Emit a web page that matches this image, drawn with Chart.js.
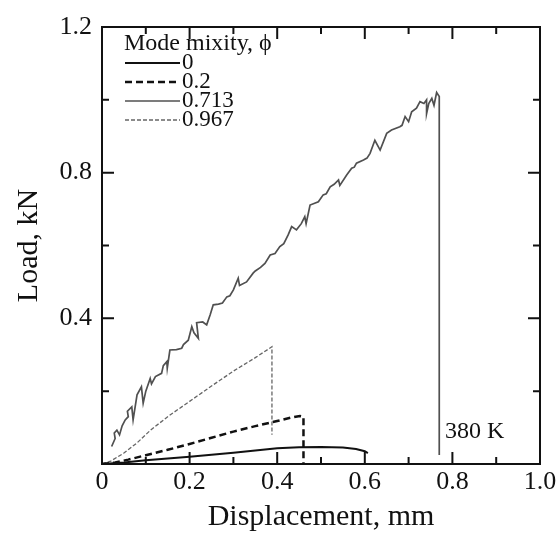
<!DOCTYPE html>
<html>
<head>
<meta charset="utf-8">
<script src="https://cdn.jsdelivr.net/npm/chart.js@4.4.1/dist/chart.umd.min.js"></script>
<style>
  html, body { margin: 0; padding: 0; background: #fff; }
  #wrap { width: 560px; height: 539px; }
</style>
</head>
<body>
<div id="wrap"><canvas id="loadChart"></canvas></div>
<script>
// tick values and labels
const xMajorTicks = [0, 0.2, 0.4, 0.6, 0.8, 1.0];
const xTickLabels = ["0", "0.2", "0.4", "0.6", "0.8", "1.0"];
const xMinorTicks = [0.1, 0.3, 0.5, 0.7, 0.9];
const yMajorTicks = [0.4, 0.8, 1.2];
const yTickLabels = ["0.4", "0.8", "1.2"];
const yMinorTicks = [0.2, 0.6, 1.0];

const mixityLabels = ["0", "0.2", "0.713", "0.967"];

// mode mixity 0
const disp0 = [0, 0.05, 0.1, 0.2, 0.3, 0.4, 0.45, 0.5, 0.55, 0.58, 0.6, 0.607];
const load0 = [0, 0.004, 0.01, 0.02, 0.031, 0.043, 0.046, 0.047, 0.045, 0.041, 0.035, 0.03];

// mode mixity 0.2
const disp02 = [0, 0.03, 0.06, 0.1, 0.15, 0.2, 0.25, 0.3, 0.35, 0.4, 0.43, 0.452, 0.46, 0.46];
const load02 = [0, 0.004, 0.012, 0.024, 0.039, 0.055, 0.072, 0.089, 0.104, 0.118, 0.127, 0.132, 0.13, 0];

// mode mixity 0.713 (jagged record, then sudden drop)
const disp0713 = [0.022, 0.03, 0.028, 0.034, 0.04, 0.046, 0.053, 0.06, 0.058, 0.068, 0.071, 0.08, 0.09,
  0.094, 0.1, 0.11, 0.113, 0.122, 0.136, 0.14, 0.148, 0.149, 0.155, 0.17, 0.182, 0.186, 0.197, 0.205,
  0.21, 0.22, 0.216, 0.23, 0.239, 0.247, 0.254, 0.266, 0.275, 0.285, 0.292, 0.3, 0.311, 0.314, 0.33,
  0.345, 0.35, 0.362, 0.372, 0.384, 0.395, 0.406, 0.415, 0.425, 0.433, 0.444, 0.455, 0.463, 0.466,
  0.475, 0.494, 0.505, 0.512, 0.521, 0.53, 0.54, 0.543, 0.559, 0.57, 0.576, 0.581, 0.597, 0.605, 0.612,
  0.623, 0.635, 0.65, 0.661, 0.68, 0.685, 0.692, 0.7, 0.707, 0.718, 0.726, 0.735, 0.741, 0.741, 0.746,
  0.753, 0.758, 0.764, 0.77, 0.77];
const load0713 = [0.048, 0.07, 0.085, 0.093, 0.08, 0.105, 0.121, 0.13, 0.145, 0.157, 0.121, 0.19, 0.212,
  0.167, 0.2, 0.235, 0.22, 0.24, 0.249, 0.27, 0.281, 0.263, 0.313, 0.314, 0.318, 0.328, 0.34, 0.377,
  0.36, 0.345, 0.388, 0.39, 0.382, 0.41, 0.437, 0.439, 0.442, 0.459, 0.462, 0.478, 0.51, 0.49, 0.5,
  0.524, 0.53, 0.54, 0.551, 0.574, 0.578, 0.597, 0.605, 0.629, 0.652, 0.643, 0.66, 0.679, 0.66,
  0.711, 0.72, 0.739, 0.742, 0.761, 0.768, 0.78, 0.765, 0.794, 0.812, 0.815, 0.826, 0.835, 0.84, 0.853,
  0.889, 0.862, 0.908, 0.917, 0.926, 0.93, 0.954, 0.94, 0.967, 0.977, 0.995, 0.99, 1.0, 0.962, 0.99,
  1.004, 0.985, 1.02, 1.009, 0.025];

// mode mixity 0.967
const disp0967 = [0, 0.02, 0.05, 0.08, 0.11, 0.15, 0.2, 0.25, 0.3, 0.35, 0.388, 0.388];
const load0967 = [0, 0.008, 0.03, 0.058, 0.092, 0.13, 0.172, 0.214, 0.255, 0.292, 0.322, 0.08];

const serif = "'Liberation Serif', 'Times New Roman', serif";

function toPoints(xs, ys) {
  return xs.map((x, i) => ({ x: x, y: ys[i] }));
}

const lineStyles = [
  { color: "#111", width: 2, dash: [] },
  { color: "#111", width: 2.5, dash: [7, 4] },
  { color: "#505050", width: 1.7, dash: [] },
  { color: "#666", width: 1.3, dash: [4, 2] },
];

// frame, inward ticks, legend and the 380 K note
const framePlugin = {
  id: "frame",
  afterDatasetsDraw(chart) {
    const ctx = chart.ctx;
    const a = chart.chartArea;
    const xs = chart.scales.x;
    const ys = chart.scales.y;
    ctx.save();
    ctx.strokeStyle = "#111";
    ctx.lineWidth = 2;
    ctx.strokeRect(a.left, a.top, a.right - a.left, a.bottom - a.top);

    function xTick(v, len) {
      const px = xs.getPixelForValue(v);
      ctx.beginPath();
      ctx.moveTo(px, a.bottom); ctx.lineTo(px, a.bottom - len);
      ctx.moveTo(px, a.top); ctx.lineTo(px, a.top + len);
      ctx.stroke();
    }
    function yTick(v, len) {
      const py = ys.getPixelForValue(v);
      ctx.beginPath();
      ctx.moveTo(a.left, py); ctx.lineTo(a.left + len, py);
      ctx.moveTo(a.right, py); ctx.lineTo(a.right - len, py);
      ctx.stroke();
    }
    xMajorTicks.forEach(v => xTick(v, 12));
    xMinorTicks.forEach(v => xTick(v, 7));
    yMajorTicks.forEach(v => yTick(v, 12));
    yMinorTicks.forEach(v => yTick(v, 7));

    // legend
    ctx.fillStyle = "#111";
    ctx.textBaseline = "middle";
    ctx.textAlign = "left";
    ctx.font = "24px " + serif;
    ctx.fillText("Mode mixity, \u03D5", a.left + 22, a.top + 17);
    ctx.font = "23px " + serif;
    mixityLabels.forEach((lab, i) => {
      const y = a.top + 36 + i * 19;
      const st = lineStyles[i];
      ctx.beginPath();
      ctx.strokeStyle = st.color;
      ctx.lineWidth = st.width;
      ctx.setLineDash(st.dash);
      ctx.moveTo(a.left + 23, y);
      ctx.lineTo(a.left + 78, y);
      ctx.stroke();
      ctx.setLineDash([]);
      ctx.fillText(lab, a.left + 80, y);
    });

    ctx.font = "24px " + serif;
    ctx.fillText("380 K", xs.getPixelForValue(0.783), ys.getPixelForValue(0.09));
    ctx.restore();
  },
};

const ctxLoad = document.getElementById("loadChart").getContext("2d");
const loadChart = new Chart(ctxLoad, {
  type: "scatter",
  data: {
    datasets: [
      [disp0, load0], [disp02, load02], [disp0713, load0713], [disp0967, load0967],
    ].map((s, i) => ({
      label: mixityLabels[i],
      data: toPoints(s[0], s[1]),
      showLine: true,
      borderColor: lineStyles[i].color,
      borderWidth: lineStyles[i].width,
      borderDash: lineStyles[i].dash,
      pointRadius: 0,
      tension: 0,
      fill: false,
    })),
  },
  options: {
    responsive: true,
    maintainAspectRatio: false,
    animation: false,
    layout: { padding: { top: 27, right: 20, left: 0, bottom: 0 } },
    scales: {
      x: {
        type: "linear",
        min: 0,
        max: 1,
        afterFit: (s) => { s.height = 75; },
        afterBuildTicks: (s) => { s.ticks = xMajorTicks.map(v => ({ value: v })); },
        ticks: {
          color: "#111",
          font: { family: serif, size: 26 },
          padding: 3,
          maxRotation: 0,
          autoSkip: false,
          callback: (v, i) => xTickLabels[i],
        },
        grid: { display: false, drawTicks: false },
        border: { display: false },
        title: {
          display: true,
          text: "Displacement, mm",
          color: "#111",
          font: { family: serif, size: 30 },
          padding: { top: 0, bottom: 4 },
        },
      },
      y: {
        type: "linear",
        min: 0,
        max: 1.2,
        afterFit: (s) => { s.width = 102; },
        afterBuildTicks: (s) => { s.ticks = yMajorTicks.map(v => ({ value: v })); },
        ticks: {
          color: "#111",
          font: { family: serif, size: 26 },
          padding: 10,
          autoSkip: false,
          callback: (v, i) => yTickLabels[i],
        },
        grid: { display: false, drawTicks: false },
        border: { display: false },
        title: {
          display: true,
          text: "Load, kN",
          color: "#111",
          font: { family: serif, size: 30 },
          padding: { top: 11, bottom: 0 },
        },
      },
    },
    plugins: {
      legend: { display: false },
      tooltip: { enabled: false },
    },
  },
  plugins: [framePlugin],
});
</script>
</body>
</html>
